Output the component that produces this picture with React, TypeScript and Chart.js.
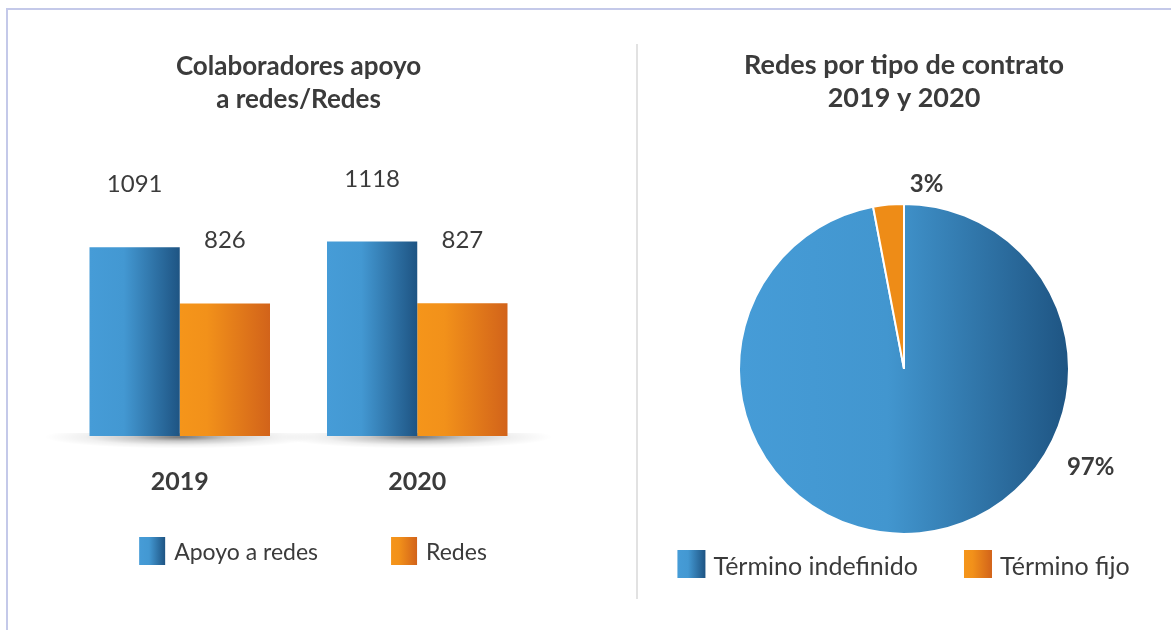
import React, { useEffect, useRef } from "react";
import { Chart, registerables } from "chart.js";

Chart.register(...registerables);

// ---------- data ----------
const YEARS = ["2019", "2020"];
const APOYO_A_REDES = [1091, 1118];
const REDES = [826, 827];
const BAR_SERIES = ["Apoyo a redes", "Redes"];

const CONTRACT_TYPES = ["Término indefinido", "Término fijo"];
const CONTRACT_SHARE = [97, 3];

const BAR_TITLE = ["Colaboradores apoyo", "a redes/Redes"];
const PIE_TITLE = ["Redes por tipo de contrato", "2019 y 2020"];

// ---------- styles ----------
const FONT = "Lato, 'Open Sans', sans-serif";
const TEXT = "#3b3b3b";
const BLUE_STOPS: [number, string][] = [
  [0, "#469cd7"],
  [0.38, "#4398d2"],
  [1, "#1e5483"],
];
const ORANGE_STOPS: [number, string][] = [
  [0, "#f5951a"],
  [0.3, "#f2911a"],
  [1, "#d2631a"],
];
const PIE_BLUE_STOPS: [number, string][] = [
  [0, "#469cd7"],
  [0.45, "#4296cf"],
  [1, "#1e5482"],
];
const PIE_ORANGE = "#ee8c17";

function hGrad(ctx: CanvasRenderingContext2D, l: number, r: number, stops: [number, string][]) {
  const g = ctx.createLinearGradient(l, 0, r, 0);
  stops.forEach(([o, c]) => g.addColorStop(o, c));
  return g;
}

function barFill(stops: [number, string][]) {
  return (c: any) => {
    if (c.type !== "data") return stops[0][1];
    const el: any = c.chart.getDatasetMeta(c.datasetIndex).data[c.dataIndex];
    if (!el || !isFinite(el.x) || !el.width) return stops[0][1];
    const l = el.x - el.width / 2;
    return hGrad(c.chart.ctx, l, l + el.width, stops);
  };
}

// shadow under each bar group
const groupShadow = {
  id: "groupShadow",
  beforeDatasetsDraw(chart: any) {
    const { ctx, chartArea } = chart;
    const xs = chart.scales.x;
    ctx.save();
    ctx.beginPath();
    ctx.rect(0, chartArea.bottom - 3, chart.width, 40);
    ctx.clip();
    chart.data.labels.forEach((_: any, i: number) => {
      const cx = xs.getPixelForValue(i);
      const cy = chartArea.bottom + 1;
      ctx.save();
      ctx.translate(cx, cy);
      ctx.scale(1, 0.085);
      const g = ctx.createRadialGradient(0, 0, 0, 0, 0, 135);
      g.addColorStop(0, "rgba(0,0,0,0.55)");
      g.addColorStop(0.35, "rgba(0,0,0,0.22)");
      g.addColorStop(0.7, "rgba(0,0,0,0.06)");
      g.addColorStop(1, "rgba(0,0,0,0)");
      ctx.fillStyle = g;
      ctx.beginPath();
      ctx.arc(0, 0, 135, 0, Math.PI * 2);
      ctx.fill();
      ctx.restore();
    });
    ctx.restore();
  },
};

// value labels above bars
const barValues = {
  id: "barValues",
  afterDatasetsDraw(chart: any, _a: any, opts: any) {
    const { ctx } = chart;
    ctx.save();
    ctx.font = `${opts.size}px ${FONT}`;
    ctx.fillStyle = TEXT;
    ctx.textAlign = "center";
    ctx.textBaseline = "alphabetic";
    chart.data.datasets.forEach((ds: any, di: number) => {
      chart.getDatasetMeta(di).data.forEach((el: any, i: number) => {
        ctx.fillText(String(ds.data[i]), el.x, el.y - opts.offset);
      });
    });
    ctx.restore();
  },
};

// pie value labels outside
const pieValues = {
  id: "pieValues",
  afterDatasetsDraw(chart: any, _a: any, opts: any) {
    const { ctx } = chart;
    const meta = chart.getDatasetMeta(0);
    const ds = chart.data.datasets[0];
    ctx.save();
    ctx.font = `bold ${opts.size}px ${FONT}`;
    ctx.fillStyle = TEXT;
    ctx.textAlign = "center";
    ctx.textBaseline = "middle";
    meta.data.forEach((arc: any, i: number) => {
      const p = opts.place[i];
      const a = (p.angle - 90) * (Math.PI / 180);
      const d = arc.outerRadius + p.gap;
      ctx.fillText(`${ds.data[i]}%`, arc.x + Math.cos(a) * d, arc.y + Math.sin(a) * d);
    });
    ctx.restore();
  },
};

// legend with gradient swatches
const gradLegend = {
  id: "gradLegend",
  afterDraw(chart: any, _a: any, opts: any) {
    const { ctx } = chart;
    const items: { text: string; stops: [number, string][] }[] = opts.items(chart);
    ctx.save();
    ctx.font = `${opts.size}px ${FONT}`;
    const widths = items.map((it) => opts.box + opts.boxGap + ctx.measureText(it.text).width);
    const total = widths.reduce((a, b) => a + b, 0) + opts.itemGap * (items.length - 1);
    let x = chart.width / 2 + (opts.shift || 0) - total / 2;
    items.forEach((it, i) => {
      ctx.fillStyle = hGrad(ctx, x, x + opts.box, it.stops);
      ctx.fillRect(x, opts.top, opts.box, opts.boxH);
      ctx.fillStyle = TEXT;
      ctx.textAlign = "left";
      ctx.textBaseline = "alphabetic";
      ctx.fillText(it.text, x + opts.box + opts.boxGap, opts.top + opts.textDy);
      x += widths[i] + opts.itemGap;
    });
    ctx.restore();
  },
};

function BarPanel() {
  const ref = useRef<HTMLCanvasElement>(null);
  useEffect(() => {
    const chart = new Chart(ref.current!, {
      type: "bar",
      data: {
        labels: YEARS,
        datasets: [
          { label: BAR_SERIES[0], data: APOYO_A_REDES, backgroundColor: barFill(BLUE_STOPS) as any, borderWidth: 0 },
          { label: BAR_SERIES[1], data: REDES, backgroundColor: barFill(ORANGE_STOPS) as any, borderWidth: 0 },
        ],
      },
      plugins: [groupShadow, barValues, gradLegend],
      options: {
        responsive: false,
        animation: false,
        devicePixelRatio: 1,
        events: [],
        layout: { padding: { left: 61, right: 100, top: 0, bottom: 102 } },
        datasets: { bar: { categoryPercentage: 0.76, barPercentage: 1 } },
        scales: {
          x: {
            grid: { display: false, drawTicks: false },
            border: { display: false },
            ticks: { padding: 31, color: TEXT, font: { family: FONT, size: 25, weight: "bold" } },
          },
          y: { display: false, min: 200, max: 1550 },
        },
        plugins: {
          legend: { display: false },
          tooltip: { enabled: false },
          title: {
            display: true,
            text: BAR_TITLE,
            color: TEXT,
            font: { family: FONT, size: 26, weight: "bold", lineHeight: 1.27 },
            padding: { top: 50, bottom: 34 },
          },
          barValues: { size: 24, offset: 55 },
          gradLegend: {
            size: 23,
            box: 26,
            boxH: 28,
            boxGap: 9,
            itemGap: 73,
            top: 537,
            textDy: 23,
            shift: -5,
            items: (c: any) =>
              c.data.datasets.map((d: any, i: number) => ({ text: d.label, stops: i === 0 ? BLUE_STOPS : ORANGE_STOPS })),
          },
        } as any,
      },
    });
    chart.update();
    return () => chart.destroy();
  }, []);
  return <canvas ref={ref} width={636} height={630} style={{ position: "absolute", left: 0, top: 0 }} />;
}

function PiePanel() {
  const ref = useRef<HTMLCanvasElement>(null);
  useEffect(() => {
    const chart = new Chart(ref.current!, {
      type: "pie",
      data: {
        labels: CONTRACT_TYPES,
        datasets: [
          {
            data: CONTRACT_SHARE,
            backgroundColor: ((c: any) => {
              if (c.dataIndex === 1) return PIE_ORANGE;
              const a = c.chart.chartArea;
              if (!a) return PIE_BLUE_STOPS[0][1];
              return hGrad(c.chart.ctx, a.left, a.right, PIE_BLUE_STOPS);
            }) as any,
            borderColor: "#ffffff",
            borderWidth: 2,
          },
        ],
      },
      plugins: [pieValues, gradLegend],
      options: {
        responsive: false,
        animation: false,
        devicePixelRatio: 1,
        events: [],
        layout: { padding: { left: 102, right: 101, top: 0, bottom: 95 } },
        plugins: {
          legend: { display: false },
          tooltip: { enabled: false },
          title: {
            display: true,
            text: PIE_TITLE,
            color: TEXT,
            font: { family: FONT, size: 27, weight: "bold", lineHeight: 1.25 },
            padding: { top: 48, bottom: 87.25 },
          },
          pieValues: { size: 24, place: [{ angle: 117.8, gap: 46 }, { angle: 7, gap: 21 }] },
          gradLegend: {
            size: 25,
            box: 28,
            boxH: 28,
            boxGap: 8,
            itemGap: 46,
            top: 550,
            textDy: 25,
            shift: 0,
            items: (c: any) =>
              c.data.labels.map((t: string, i: number) => ({
                text: t,
                stops: i === 0 ? BLUE_STOPS : ORANGE_STOPS,
              })),
          },
        } as any,
      },
    });
    return () => chart.destroy();
  }, []);
  return <canvas ref={ref} width={535} height={630} style={{ position: "absolute", left: 636, top: 0 }} />;
}

export default function App() {
  return (
    <div
      style={{
        position: "fixed",
        left: 0,
        top: 0,
        width: 1171,
        height: 630,
        overflow: "hidden",
        background: "#ffffff",
      }}
    >
      <div
        style={{
          position: "absolute",
          left: 6,
          top: 8,
          width: 1200,
          height: 700,
          borderLeft: "2px solid #c4c9e9",
          borderTop: "2px solid #c4c9e9",
        }}
      />
      <div style={{ position: "absolute", left: 636, top: 44, width: 2, height: 555, background: "#e2e2e2" }} />
      <BarPanel />
      <PiePanel />
    </div>
  );
}
